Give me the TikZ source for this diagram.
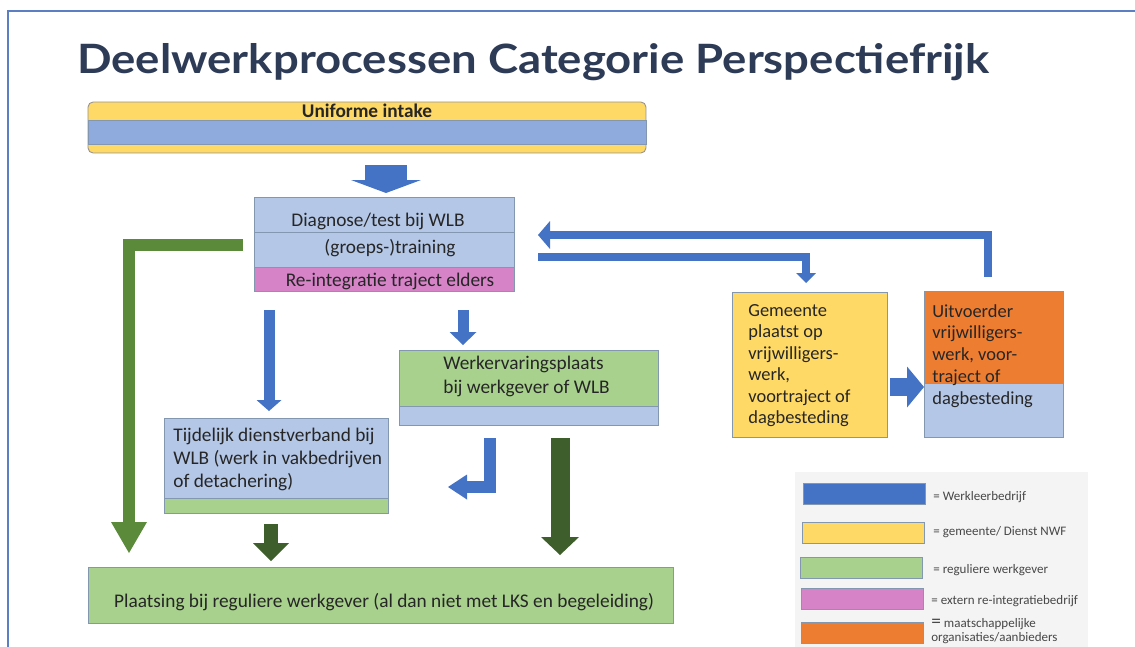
\documentclass[tikz,border=0pt]{standalone}
\usepackage{fontspec}
\setmainfont{Carlito}
\newfontfamily\titlefont{Lato}
\usepackage{tikz}
\usetikzlibrary{arrows.meta}

\definecolor{wlbblue}{HTML}{4472C4}
\definecolor{lightblue}{HTML}{B4C7E7}
\definecolor{intakeblue}{HTML}{8FAADC}
\definecolor{gemyellow}{HTML}{FFD966}
\definecolor{werkgreen}{HTML}{A9D18E}
\definecolor{reintpink}{HTML}{D683C8}
\definecolor{maatorange}{HTML}{ED7D31}
\definecolor{midgreen}{HTML}{5A8A3A}
\definecolor{darkgreen}{HTML}{3E5F2C}
\definecolor{boxline}{HTML}{8497B0}
\definecolor{titlenavy}{HTML}{2D3B57}
\definecolor{frameblue}{HTML}{5B7FC2}
\definecolor{legendbg}{HTML}{F3F4F3}
\definecolor{textgray}{HTML}{262626}

\tikzset{
  band/.style={draw=boxline, line width=0.5pt, inner sep=0pt, outer sep=0pt},
  boxtext/.style={inner sep=0pt, text=textgray, align=left, font=\fontsize{11}{12.2}\selectfont},
  legtext/.style={inner sep=0pt, text=textgray!85, align=left, anchor=west, font=\fontsize{7.4}{8}\selectfont},
  fat/.style={line cap=butt, line join=miter},
}

\begin{document}
\begin{tikzpicture}[x=0.02cm,y=-0.02cm]
\useasboundingbox (0,0) rectangle (1135,646);
\clip (0,0) rectangle (1135,646);
\draw[frameblue, line width=1.2pt] (8,660) -- (8,11) -- (1150,11);
\node[anchor=base west, inner sep=0pt, text=titlenavy, font=\titlefont\bfseries\fontsize{23}{26}\selectfont] (title) at (77,73) {\scalebox{1.125}[1]{Deelwerkprocessen Categorie Perspectiefrijk}};

\node[band, draw=boxline!70!brown, fill=gemyellow, rounded corners=0.1cm, minimum width=11.16cm, minimum height=1.02cm] (intake) at (367,127.5) {};
\node[band, fill=intakeblue, minimum width=11.16cm, minimum height=0.48cm] (intakeband) at (367,132) {};
\node[boxtext, font=\fontsize{11}{12}\selectfont\bfseries] (intaketxt) at (367,111) {Uniforme intake};

\node[band, fill=lightblue, minimum width=5.2cm, minimum height=0.7cm] (diag) at (384,214.5) {};
\node[band, fill=lightblue, minimum width=5.2cm, minimum height=0.7cm] (train) at (384,249.5) {};
\node[band, fill=reintpink, minimum width=5.2cm, minimum height=0.48cm] (reint) at (384,279) {};
\node[boxtext] (diagtxt) at (378,221) {Diagnose/test bij WLB};
\node[boxtext] (traintxt) at (390,248) {(groeps-)training};
\node[boxtext] (reinttxt) at (390,281) {Re-integratie traject elders};

\node[band, fill=werkgreen, minimum width=5.18cm, minimum height=1.12cm] (werk) at (528.5,378) {};
\node[band, fill=lightblue, minimum width=5.18cm, minimum height=0.38cm] (werkband) at (528.5,415.5) {};
\node[boxtext, anchor=north west, font=\fontsize{11}{13.6}\selectfont] (werktxt) at (443,356) {Werkervaringsplaats\\bij werkgever of WLB};

\node[band, fill=lightblue, minimum width=4.48cm, minimum height=1.6cm] (tijd) at (276,458) {};
\node[band, fill=werkgreen, minimum width=4.48cm, minimum height=0.3cm] (tijdband) at (276,505.5) {};
\node[boxtext, anchor=north west, font=\fontsize{11}{13}\selectfont] (tijdtxt) at (173,428) {Tijdelijk dienstverband bij\\WLB (werk in vakbedrijven\\of detachering)};

\node[band, fill=gemyellow, minimum width=3.1cm, minimum height=2.9cm] (gem) at (809.5,364.5) {};
\node[boxtext, anchor=north west, font=\fontsize{10.5}{12.2}\selectfont] (gemtxt) at (748,304) {Gemeente\\plaatst op\\vrijwilligers-\\werk,\\voortraject of\\dagbesteding};

\node[band, fill=maatorange, minimum width=2.78cm, minimum height=1.84cm] (uitv) at (993.5,337) {};
\node[band, fill=lightblue, minimum width=2.78cm, minimum height=1.08cm] (uitvband) at (993.5,410) {};
\node[boxtext, anchor=north west, font=\fontsize{10.5}{12.4}\selectfont] (uitvtxt) at (932,304) {Uitvoerder\\vrijwilligers-\\werk, voor-\\traject of\\dagbesteding};

\node[band, fill=werkgreen, minimum width=11.7cm, minimum height=1.12cm] (plaats) at (380.5,595) {};
\node[boxtext] (plaatstxt) at (384,602) {Plaatsing bij reguliere werkgever (al dan niet met LKS en begeleiding)};

\coordinate (a1s) at (386,165); \coordinate (a1e) at (386,193);
\draw[fat, wlbblue, line width=0.84cm, -{Triangle[width=1.4cm 0 0, length=0.26cm 0 0, line width=0pt 0 0]}] (a1s) -- (a1e);
\coordinate (g1) at (243,245); \coordinate (g2) at (129,245); \coordinate (g3) at (129,553);
\draw[fat, midgreen, line width=0.24cm, -{Triangle[width=0.72cm 0 0, length=0.62cm 0 0, line width=0pt 0 0]}] (g1) -- (g2) -- (g3);
\coordinate (f1) at (988,277); \coordinate (f2) at (988,235); \coordinate (f3) at (538,235);
\draw[fat, wlbblue, line width=0.16cm, -{Triangle[width=0.56cm 0 0, length=0.24cm 0 0, line width=0pt 0 0]}] (f1) -- (f2) -- (f3);
\coordinate (h1) at (538,257); \coordinate (h2) at (806,257); \coordinate (h3) at (806,283);
\draw[fat, wlbblue, line width=0.16cm, -{Triangle[width=0.4cm 0 0, length=0.2cm 0 0, line width=0pt 0 0]}] (h1) -- (h2) -- (h3);
\coordinate (b1s) at (269,310); \coordinate (b1e) at (269,411);
\draw[fat, wlbblue, line width=0.22cm, -{Triangle[width=0.5cm 0 0, length=0.22cm 0 0, line width=0pt 0 0]}] (b1s) -- (b1e);
\coordinate (b2s) at (463,310); \coordinate (b2e) at (463,345);
\draw[fat, wlbblue, line width=0.22cm, -{Triangle[width=0.54cm 0 0, length=0.26cm 0 0, line width=0pt 0 0]}] (b2s) -- (b2e);
\coordinate (r1) at (890,387); \coordinate (r2) at (924,387);
\draw[fat, wlbblue, line width=0.36cm, -{Triangle[width=0.82cm 0 0, length=0.34cm 0 0, line width=0pt 0 0]}] (r1) -- (r2);
\coordinate (l1) at (490,438); \coordinate (l2) at (490,487); \coordinate (l3) at (448,487);
\draw[fat, wlbblue, line width=0.24cm, -{Triangle[width=0.5cm 0 0, length=0.38cm 0 0, line width=0pt 0 0]}] (l1) -- (l2) -- (l3);
\coordinate (d1s) at (560,438); \coordinate (d1e) at (560,555);
\draw[fat, darkgreen, line width=0.38cm, -{Triangle[width=0.76cm 0 0, length=0.36cm 0 0, line width=0pt 0 0]}] (d1s) -- (d1e);
\coordinate (d2s) at (271,524); \coordinate (d2e) at (271,561);
\draw[fat, darkgreen, line width=0.28cm, -{Triangle[width=0.72cm 0 0, length=0.36cm 0 0, line width=0pt 0 0]}] (d2s) -- (d2e);

\fill[legendbg] (795,472) rectangle (1088,660);
\node[band, fill=wlbblue, minimum width=2.44cm, minimum height=0.42cm] (sw1) at (864,494) {};
\node[band, fill=gemyellow, minimum width=2.44cm, minimum height=0.42cm] (sw2) at (863,532.5) {};
\node[band, fill=werkgreen, minimum width=2.44cm, minimum height=0.42cm] (sw3) at (861.5,567.5) {};
\node[band, fill=reintpink, minimum width=2.44cm, minimum height=0.42cm] (sw4) at (862,598.5) {};
\node[band, fill=maatorange, minimum width=2.44cm, minimum height=0.42cm] (sw5) at (862,632.5) {};
\node[legtext] (lt1) at (933,497) {= Werkleerbedrijf};
\node[legtext] (lt2) at (933,532) {= gemeente/ Dienst NWF};
\node[legtext] (lt3) at (933,570) {= reguliere werkgever};
\node[legtext] (lt4) at (931,601) {= extern re-integratiebedrijf};
\node[legtext, anchor=north west] (lt5) at (931,618) {{\fontsize{11}{8}\selectfont=} maatschappelijke\\organisaties/aanbieders};
\end{tikzpicture}
\end{document}
